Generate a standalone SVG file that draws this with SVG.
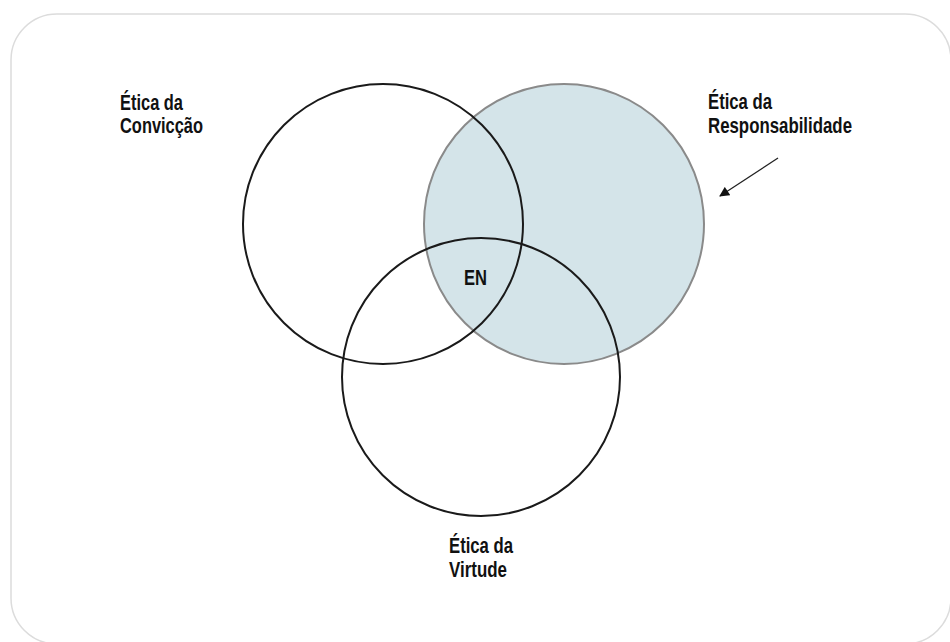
<svg xmlns="http://www.w3.org/2000/svg" width="950" height="642" viewBox="0 0 950 642">
<defs>
<style>
.lbl{font-family:"Liberation Sans",Arial,sans-serif;font-weight:bold;font-size:21.5px;fill:#111}
.ring{fill:none;stroke:#1a1a1a;stroke-width:2}
</style>
<marker id="ah" viewBox="0 0 10 10" refX="9" refY="5" markerWidth="11" markerHeight="10" orient="auto" markerUnits="userSpaceOnUse">
<path d="M0,0 L10,5 L0,10 z" fill="#111"/>
</marker>
</defs>
<rect x="0" y="0" width="950" height="642" fill="#fff"/>
<rect x="11" y="14" width="940" height="630" rx="46" ry="46" fill="#fff" stroke="#dcdcdc" stroke-width="1.5"/>
<g id="responsabilidade">
<circle cx="564" cy="224" r="140" fill="#d4e4e9" stroke="#8a8a8a" stroke-width="2"/>
<text class="lbl" x="708" y="109" textLength="64" lengthAdjust="spacingAndGlyphs">Ética da</text>
<text class="lbl" x="708" y="133" textLength="144" lengthAdjust="spacingAndGlyphs">Responsabilidade</text>
</g>
<g id="conviccao">
<circle class="ring" cx="383" cy="224" r="140"/>
<text class="lbl" x="120" y="110" textLength="63" lengthAdjust="spacingAndGlyphs">Ética da</text>
<text class="lbl" x="120" y="133" textLength="83" lengthAdjust="spacingAndGlyphs">Convicção</text>
</g>
<g id="virtude">
<circle class="ring" cx="481" cy="377" r="139"/>
<text class="lbl" x="449" y="553" textLength="64" lengthAdjust="spacingAndGlyphs">Ética da</text>
<text class="lbl" x="449" y="577" textLength="58" lengthAdjust="spacingAndGlyphs">Virtude</text>
</g>
<g id="en">
<text class="lbl" x="464" y="285" textLength="23" lengthAdjust="spacingAndGlyphs">EN</text>
</g>
<g id="connectors">
<line x1="778" y1="158" x2="720" y2="196" stroke="#222" stroke-width="1.3" marker-end="url(#ah)"/>
</g>
</svg>
